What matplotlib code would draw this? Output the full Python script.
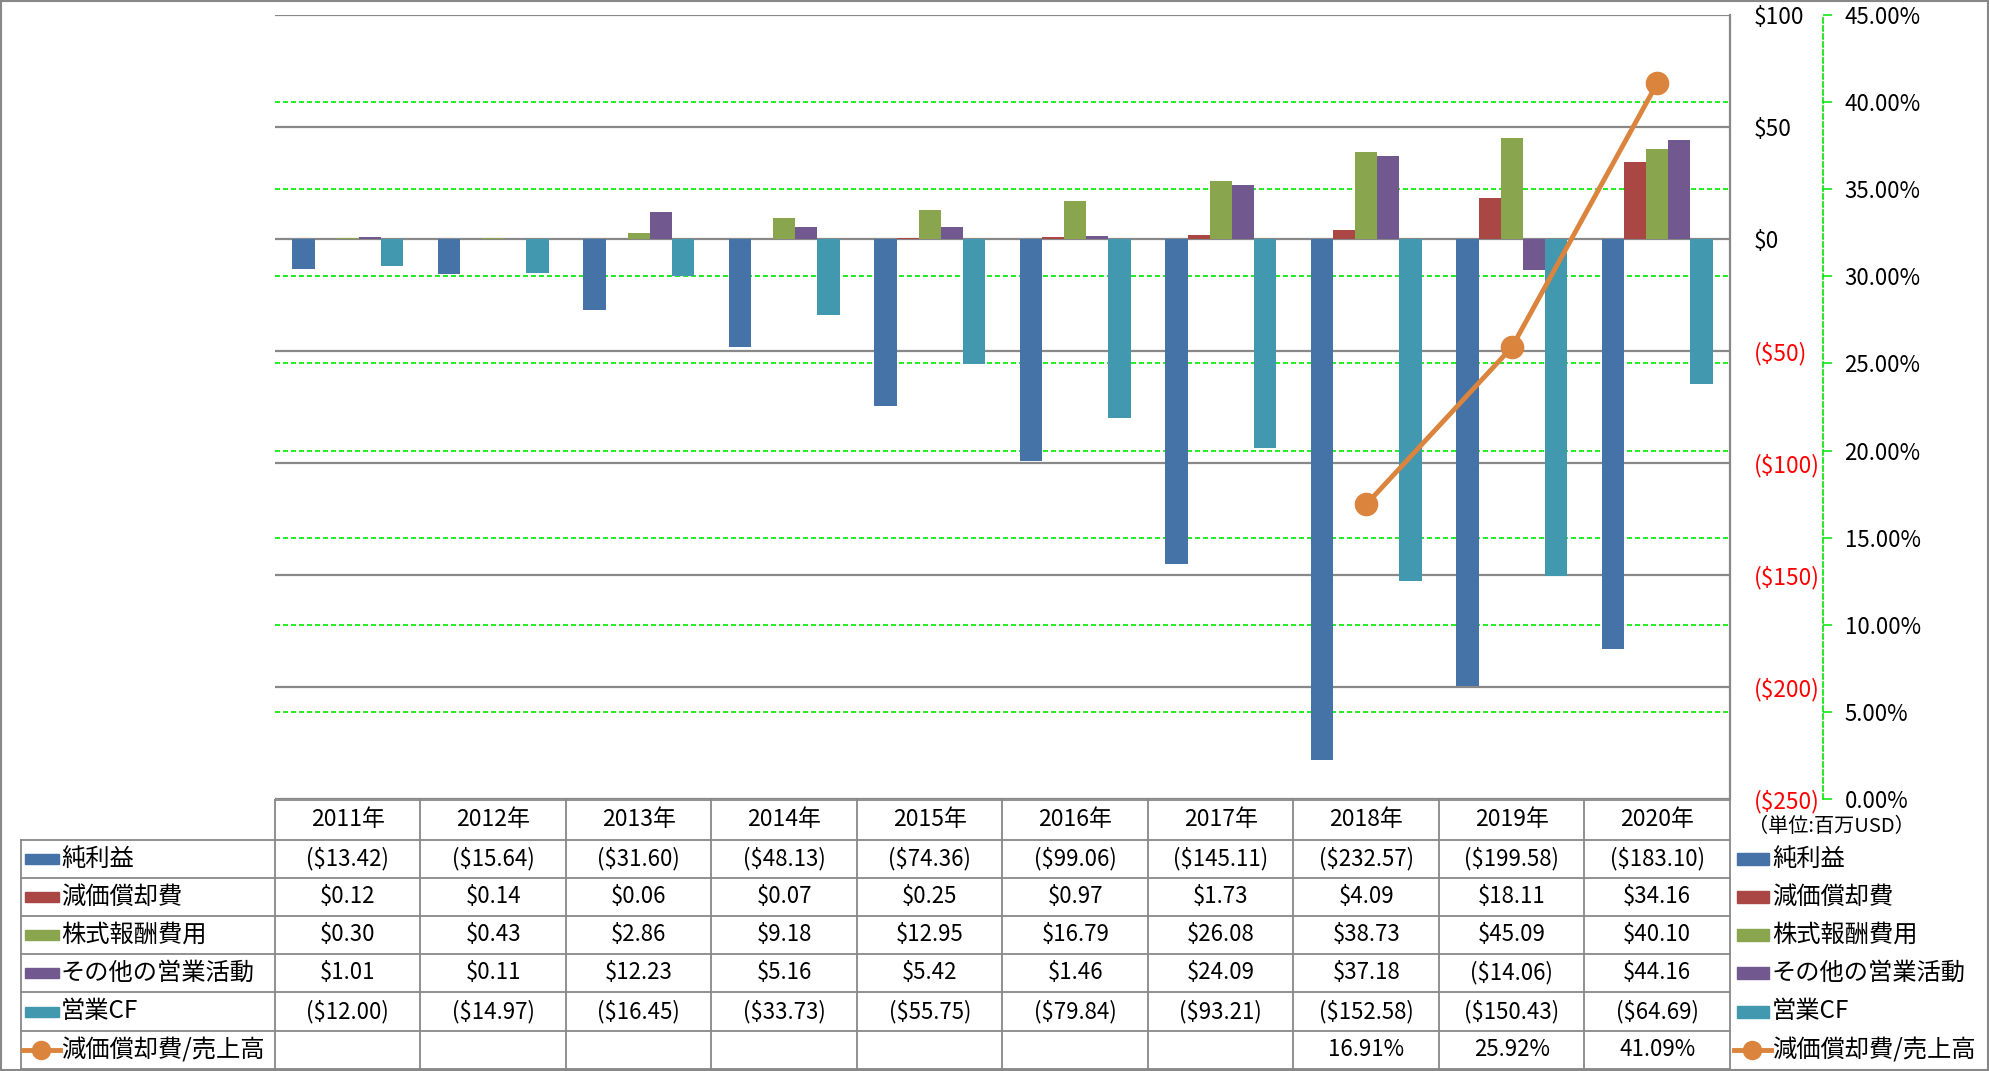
import numpy as np
import matplotlib
matplotlib.use('Agg')
import matplotlib.pyplot as plt
from matplotlib import transforms
from matplotlib.patches import Rectangle
from matplotlib.lines import Line2D

plt.rcParams['font.family'] = ['Noto Sans CJK JP', 'DejaVu Sans']

# data (million USD)
years = ['2011年', '2012年', '2013年', '2014年', '2015年',
         '2016年', '2017年', '2018年', '2019年', '2020年']
net_income = [-13.42, -15.64, -31.60, -48.13, -74.36, -99.06, -145.11, -232.57, -199.58, -183.10]
depreciation = [0.12, 0.14, 0.06, 0.07, 0.25, 0.97, 1.73, 4.09, 18.11, 34.16]
stock_comp = [0.30, 0.43, 2.86, 9.18, 12.95, 16.79, 26.08, 38.73, 45.09, 40.10]
other_ops = [1.01, 0.11, 12.23, 5.16, 5.42, 1.46, 24.09, 37.18, -14.06, 44.16]
operating_cf = [-12.00, -14.97, -16.45, -33.73, -55.75, -79.84, -93.21, -152.58, -150.43, -64.69]
dep_ratio = [None, None, None, None, None, None, None, 16.91, 25.92, 41.09]

bar_names = ['純利益', '減価償却費', '株式報酬費用', 'その他の営業活動', '営業CF']
bar_series = [net_income, depreciation, stock_comp, other_ops, operating_cf]
bar_colors = ['#4572A7', '#AA4643', '#89A54E', '#71588F', '#4198AF']
line_name = '減価償却費/売上高'
line_color = '#DB843D'

green = '#00E600'
grey = '#888888'

W, H = 1989, 1071
left_px, right_px, top_px, bottom_px = 275, 1730, 15, 799
rect = [left_px / W, 1 - bottom_px / H, (right_px - left_px) / W, (bottom_px - top_px) / H]

fig = plt.figure(figsize=(W / 100, H / 100), dpi=100)
fig.patch.set_facecolor('white')

# back axes: green dashed grid of the percentage scale
ax_g = fig.add_axes(rect)
ax_g.set_zorder(0)
ax_g.set_xlim(-0.5, 9.5)
ax_g.set_ylim(0, 45)
ax_g.set_yticks(np.arange(0, 46, 5))
ax_g.set_xticks([])
ax_g.tick_params(left=False, labelleft=False)
ax_g.grid(axis='y', color=green, linestyle=(0, (3, 1.8)), linewidth=1.2)
for s in ax_g.spines.values():
    s.set_visible(False)

# bars
ax = fig.add_axes(rect)
ax.set_zorder(1)
ax.patch.set_alpha(0)
x = np.arange(len(years))
w = 0.152
for k, (vals, c) in enumerate(zip(bar_series, bar_colors)):
    ax.bar(x + (k - 2) * w, vals, width=w, color=c, zorder=3)
ax.set_xlim(-0.5, 9.5)
ax.set_ylim(-250, 100)
ticks = list(range(-250, 101, 50))
labels = [f'${t}' if t >= 0 else f'(${-t})' for t in ticks]
ax.set_yticks(ticks, labels)
ax.set_xticks([])
ax.grid(axis='y', color=grey, linewidth=1.6, zorder=0)

# line on the percentage axis
ax2 = ax.twinx()
ax2.set_zorder(2)
ax2.patch.set_alpha(0)
ratio = np.array([np.nan if v is None else v for v in dep_ratio], dtype=float)
ax2.plot(x, ratio, color=line_color, linewidth=3.5, marker='o', markersize=16,
         solid_capstyle='round', zorder=5)
ax2.set_ylim(0, 45)
pticks = np.arange(0, 46, 5)
ax2.set_yticks(pticks, [f'{p:.2f}%' for p in pticks])
ax2.spines['right'].set_position(('axes', (1823 - left_px) / (right_px - left_px)))
ax2.spines['right'].set_color(green)
ax2.spines['right'].set_linestyle((0, (3, 1.8)))
ax2.spines['right'].set_linewidth(1.2)
for name in ['left', 'top', 'bottom']:
    ax2.spines[name].set_visible(False)
ax2.tick_params(axis='y', direction='out', length=6.5, width=1.1, color=green,
                pad=9, labelsize=16)

# dollar labels on the right of the plot (after twinx, which moves them left)
ax.yaxis.tick_right()
ax.tick_params(axis='y', length=0, pad=17, labelsize=16.3)
for t, tk in zip(ticks, ax.yaxis.get_major_ticks()):
    col = 'red' if t < 0 else 'black'
    tk.label1.set_color(col)
    tk.label2.set_color(col)
for name, s in ax.spines.items():
    s.set_visible(name == 'right')
ax.spines['right'].set_color(grey)
ax.spines['right'].set_linewidth(1.6)

# overlay in pixel coordinates for the data table
ov = fig.add_axes([0, 0, 1, 1])
ov.set_zorder(3)
ov.patch.set_alpha(0)
ov.set_xlim(0, W)
ov.set_ylim(H, 0)
ov.axis('off')
tr = transforms.blended_transform_factory(ax.transData, ov.transData)

rows = [800, 840, 878, 916, 954, 992, 1031, 1069]
lw_t = 1.3
# header top line and column lines
ov.plot([-0.5, 9.5], [rows[0], rows[0]], color=grey, lw=lw_t, transform=tr)
for i in range(len(years) + 1):
    ov.plot([i - 0.5, i - 0.5], [rows[0], rows[-1]], color=grey, lw=lw_t, transform=tr)
for y in rows[1:]:
    ov.plot([21, right_px], [y, y], color=grey, lw=lw_t)
ov.plot([21, 21], [rows[1], rows[-1]], color=grey, lw=lw_t)

# header
hy = (rows[0] + rows[1]) / 2
for i, yr in enumerate(years):
    ov.text(i, hy, yr, transform=tr, ha='center', va='center', fontsize=16.5)


def money(v):
    return f'${v:.2f}' if v >= 0 else f'(${-v:.2f})'


jp = 17.5
# body rows
for r, (name, vals, c) in enumerate(zip(bar_names, bar_series, bar_colors)):
    cy = (rows[r + 1] + rows[r + 2]) / 2
    for i, v in enumerate(vals):
        ov.text(i, cy, money(v), transform=tr, ha='center', va='center', fontsize=16)
    ov.add_patch(Rectangle((25, cy - 5), 34, 10, color=c))
    ov.text(61, cy, name, ha='left', va='center', fontsize=jp)
    ov.add_patch(Rectangle((1737, cy - 6), 32, 12, color=c))
    ov.text(1772, cy, name, ha='left', va='center', fontsize=jp)

cy = (rows[6] + rows[7]) / 2
for i, v in enumerate(dep_ratio):
    if v is not None:
        ov.text(i, cy, f'{v:.2f}%', transform=tr, ha='center', va='center', fontsize=16)
for x0, x1, tx in [(23, 60, 61), (1734, 1771, 1772)]:
    ov.add_line(Line2D([x0, x1], [cy, cy], color=line_color, lw=3.5))
    ov.add_line(Line2D([(x0 + x1) / 2], [cy], color=line_color, marker='o', markersize=13))
    ov.text(tx, cy, line_name, ha='left', va='center', fontsize=jp)

ov.text(1748, 827, '（単位:百万USD）', ha='left', va='center', fontsize=14.5)

# outer border
ov.add_patch(Rectangle((0.5, 0.5), W - 1.5, H - 1.5, fill=False, edgecolor=grey, lw=1.5))

fig.savefig('out.png', dpi=100, facecolor='white')
